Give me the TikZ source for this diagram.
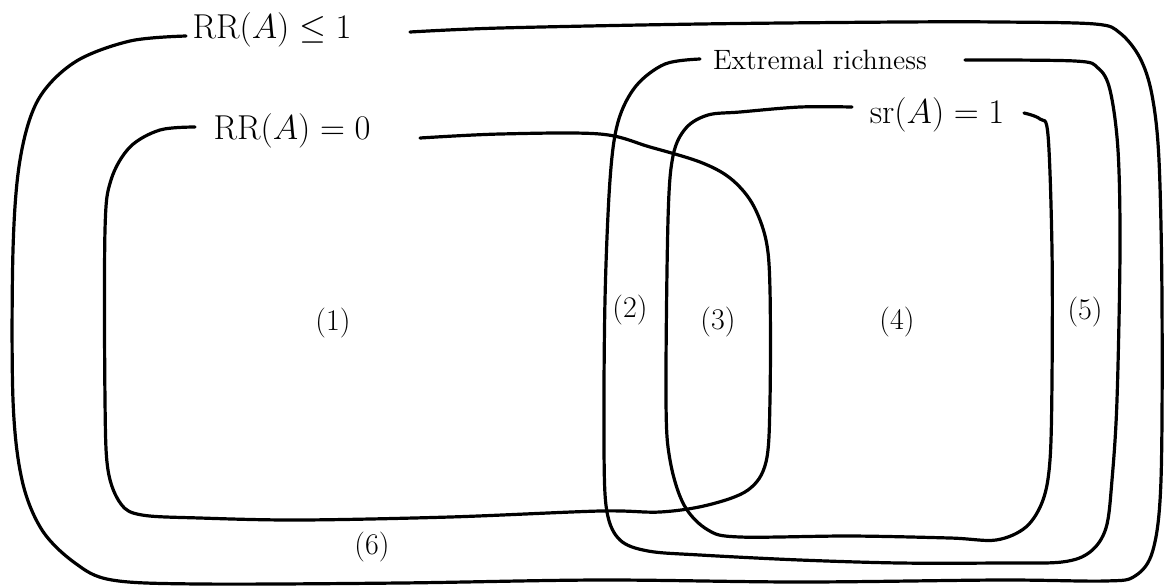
\documentclass[tikz,border=0pt]{standalone}
\usepackage{amsmath}
\begin{document}
\begin{tikzpicture}[x=0.5pt,y=-0.5pt,
  setline/.style={line width=1.6pt, line cap=round, line join=round},
  setlabel/.style={inner sep=0pt, font=\fontsize{18}{20}\selectfont},
  regionlabel/.style={inner sep=0pt, font=\fontsize{15}{17}\selectfont}]
\useasboundingbox (0,0) rectangle (1164,586);
\fill[white] (0,0) rectangle (1164,586);
% labels
\node[setlabel] (rrle) at (272,30) {$\mathrm{RR}(A)\le 1$};
\node[setlabel, font=\fontsize{14}{16}\selectfont] (extr) at (820,60) {Extremal richness};
\node[setlabel, font=\fontsize{17}{19}\selectfont] (rreq) at (292,131) {$\mathrm{RR}(A)=0$};
\node[setlabel] (sreq) at (937,115) {$\mathrm{sr}(A)=1$};
% regions
\node[regionlabel] (r1) at (333,323) {(1)};
\node[regionlabel] (r2) at (630,310) {(2)};
\node[regionlabel] (r3) at (718,322) {(3)};
\node[regionlabel] (r4) at (897,322) {(4)};
\node[regionlabel] (r5) at (1085,312) {(5)};
\node[regionlabel] (r6) at (372,547) {(6)};
% outer: RR(A) <= 1
\draw[setline] plot[smooth, tension=0.55] coordinates {
 (186,36) (130,41) (75,62) (38,100) (20,160) (13,250) (13,400) (22,480) (42,530) (75,563) (112,580)
 (200,584) (400,583) (600,580) (800,582) (1000,580) (1105,581) (1135,576) (1153,550) (1161,480)
 (1162,300) (1159,160) (1152,95) (1140,58) (1120,33) (1095,24) (1000,22) (900,22) (700,24) (500,28) (410,32)};
% extremal richness
\draw[setline] plot[smooth, tension=0.55] coordinates {
 (700,59) (665,64) (636,86) (618,122) (610,180) (605,300) (604,450) (607,512) (620,540) (648,551)
 (700,555) (800,560) (900,563) (1000,563) (1062,562) (1090,552) (1106,528) (1112,480) (1117,400)
 (1120,250) (1118,150) (1110,90) (1098,68) (1075,61) (965,60)};
% RR(A)=0
\draw[setline] plot[smooth, tension=0.55] coordinates {
 (195,127) (160,130) (130,147) (111,180) (105,230) (105,400) (108,470) (121,504) (142,515)
 (200,518) (300,520) (450,517) (600,511) (660,512) (708,505) (748,490) (766,462) (770,400)
 (770,290) (766,240) (752,203) (730,178) (700,162) (650,147) (600,134) (500,134) (420,138)};
% sr(A)=1
\draw[setline] plot[smooth, tension=0.55] coordinates {
 (852,107) (800,107) (740,112) (708,115) (686,128) (673,156) (668,220) (666,400) (670,460)
 (684,505) (708,530) (740,537) (850,536) (950,538) (996,540) (1026,527) (1043,500) (1050,460)
 (1052,380) (1052,250) (1048,135) (1040,119) (1024,113)};
\end{tikzpicture}
\end{document}
